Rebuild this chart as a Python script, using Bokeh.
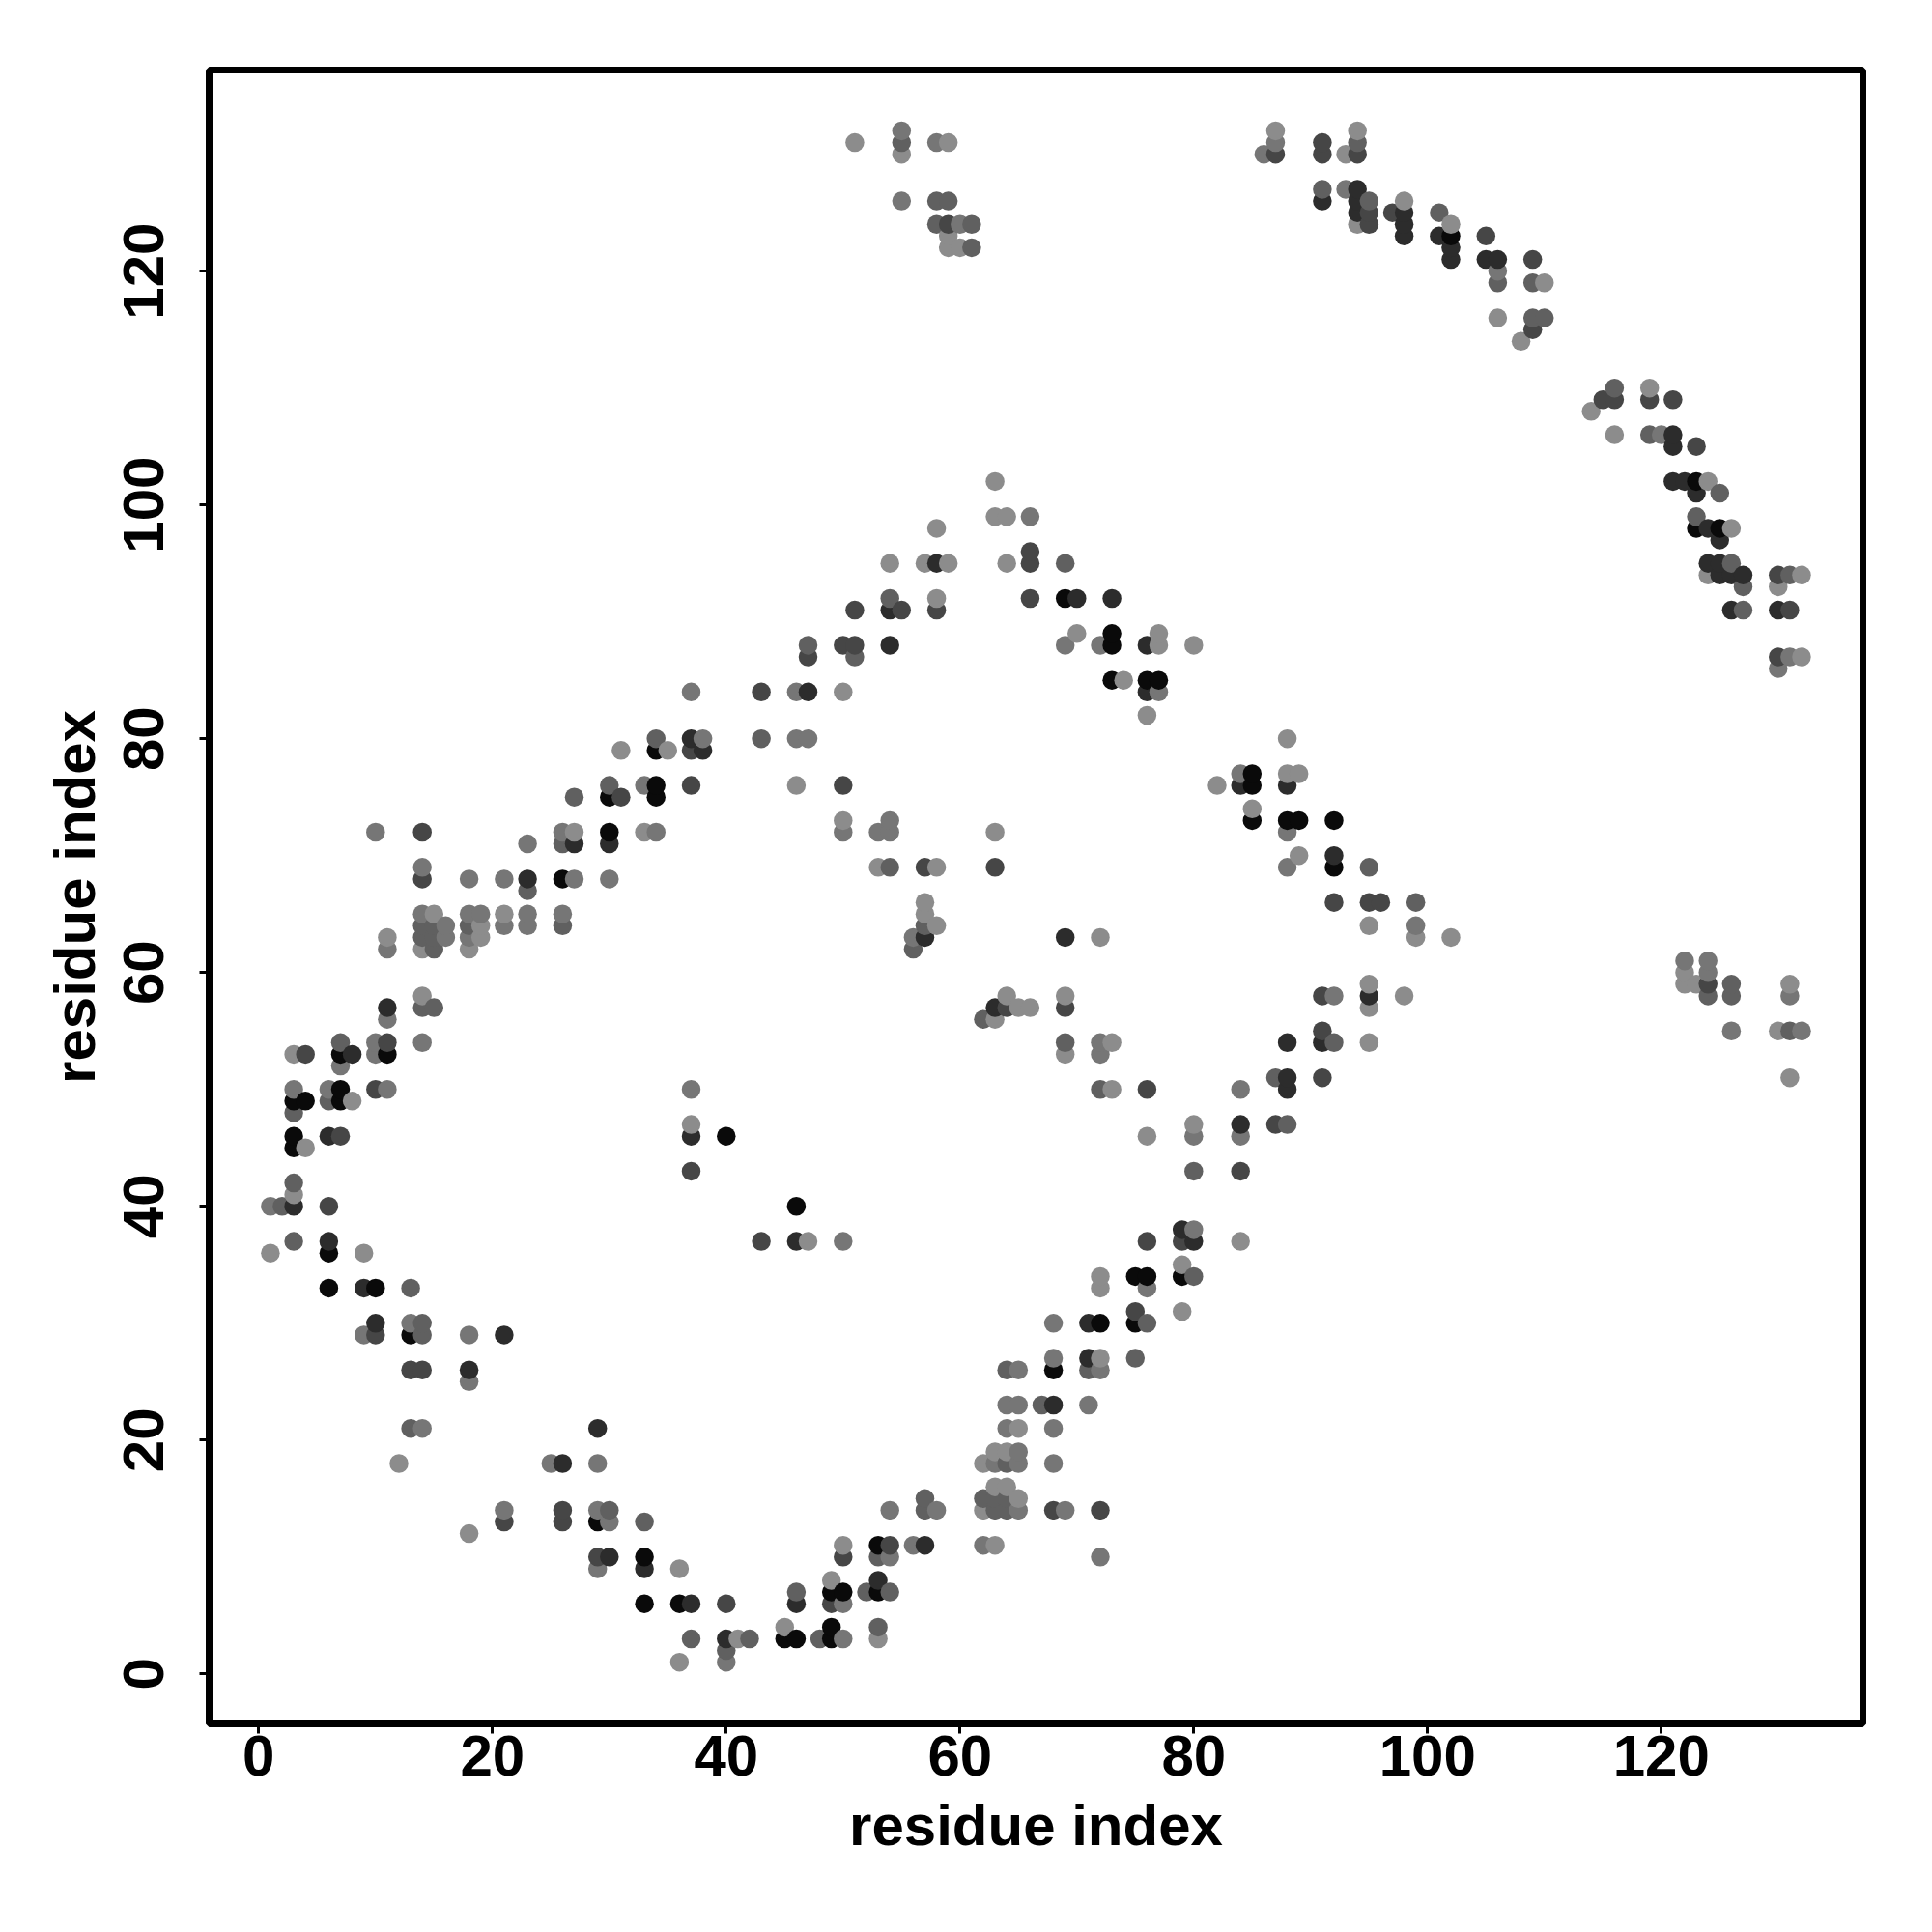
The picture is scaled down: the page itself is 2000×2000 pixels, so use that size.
from bokeh.plotting import figure
from bokeh.models import Range1d, FixedTicker, ColumnDataSource
from bokeh.embed import file_html
from bokeh.resources import INLINE

tick_values = [0, 20, 40, 60, 80, 100, 120]
x_label = "residue index"
y_label = "residue index"

# contacts (residue i, residue j), grouped by the grey level they were drawn in
shade_black = [(7,50),(3,49),(4,49),(7,49),(3,46),(40,46),(3,45),(46,40),(6,36),(6,33),(10,33),(13,29),(29,13),(33,10),(33,6),(36,6),(45,3),(46,3),(75,34),(76,34),(79,34),(72,30),(75,30),(68,26),(53,11),(49,7),(50,7),(53,7),(49,4),(49,3),(34,79),(34,76),(30,75),(34,75),(30,72),(26,68),(7,53),(11,53),(73,89),(73,88),(73,85),(76,85),(77,85),(69,92),(85,77),(85,76),(85,73),(88,73),(89,73),(92,73),(92,69),(102,123),(123,102),(123,98),(125,98)]
shade_dark = [(88,51),(88,50),(84,47),(79,38),(80,37),(71,30),(71,27),(68,23),(57,11),(53,8),(21,29),(18,26),(29,21),(26,18),(30,10),(33,9),(37,6),(46,6),(40,3),(3,40),(6,46),(6,37),(46,37),(37,46),(9,33),(10,30),(37,80),(38,79),(27,71),(30,71),(23,68),(11,57),(8,53),(58,95),(70,92),(73,92),(54,91),(54,88),(76,88),(47,84),(76,84),(84,76),(88,76),(92,70),(69,63),(57,63),(63,57),(95,58),(88,54),(91,54),(94,127),(91,126),(94,126),(94,125),(98,125),(98,124),(98,123),(101,123),(102,122),(102,121),(105,121),(106,121),(121,106),(121,105),(121,102),(122,102),(123,101),(124,98),(125,97),(124,95),(125,95),(125,94),(126,94),(127,94),(126,91),(130,91)]
shade_mid_dark = [(10,50),(7,46),(37,43),(6,40),(43,37),(10,29),(13,26),(14,26),(26,14),(21,13),(26,13),(29,10),(40,6),(76,50),(87,47),(84,43),(76,37),(79,37),(75,31),(68,14),(72,14),(54,11),(50,10),(49,6),(91,51),(43,84),(37,76),(50,76),(31,75),(37,79),(14,72),(14,68),(4,53),(11,54),(66,96),(66,95),(66,92),(51,91),(55,91),(58,91),(50,88),(51,88),(47,87),(57,69),(63,69),(92,66),(95,66),(96,66),(64,57),(69,57),(91,58),(91,55),(124,59),(91,131),(87,130),(91,130),(94,130),(95,125),(97,125),(95,124),(105,123),(109,121),(109,115),(115,109),(116,109),(119,109),(121,109),(123,105),(130,94),(131,91),(130,87),(59,124)]
shade_mid = [(6,49),(3,48),(3,42),(2,40),(3,37),(13,33),(14,30),(14,29),(13,21),(30,14),(33,13),(46,7),(37,3),(42,3),(40,2),(72,50),(87,51),(88,47),(80,43),(80,34),(76,30),(75,27),(64,26),(71,26),(67,23),(64,18),(62,15),(63,15),(64,15),(57,15),(57,14),(63,14),(64,14),(53,10),(52,7),(54,7),(53,4),(48,3),(34,80),(43,80),(30,76),(27,75),(26,71),(23,67),(14,64),(15,64),(18,64),(26,64),(14,63),(15,63),(15,62),(14,57),(15,57),(7,54),(54,92),(69,95),(47,88),(51,87),(54,69),(99,66),(57,64),(56,62),(62,56),(69,54),(92,54),(95,69),(55,131),(58,126),(59,126),(58,124),(61,124),(61,122),(124,58),(126,59),(126,58),(131,55),(91,127),(94,131),(95,126),(101,125),(106,119),(109,119),(109,116),(110,116),(116,110),(119,106),(125,101),(123,99),(126,95),(127,93),(127,91),(131,94)]
shade_light = [(3,50),(6,50),(11,50),(37,50),(1,40),(50,37),(13,30),(9,29),(18,29),(18,25),(14,21),(25,18),(29,18),(21,14),(29,14),(30,13),(29,9),(40,1),(84,50),(80,46),(84,46),(80,38),(76,33),(68,30),(68,27),(72,26),(65,26),(64,23),(65,23),(71,23),(64,21),(68,21),(63,18),(65,18),(68,18),(65,19),(58,14),(65,14),(69,14),(54,14),(56,11),(62,11),(54,10),(72,10),(50,6),(50,3),(37,84),(46,84),(46,80),(47,80),(38,80),(33,76),(23,71),(26,72),(10,72),(14,69),(18,68),(21,68),(27,68),(30,68),(14,65),(18,65),(19,65),(23,65),(26,65),(16,64),(21,64),(23,64),(16,63),(18,63),(11,62),(14,54),(10,54),(10,53),(11,56),(7,52),(66,99),(77,84),(69,88),(72,88),(54,73),(50,72),(53,72),(54,72),(84,77),(88,72),(88,69),(56,63),(99,64),(92,58),(72,54),(72,53),(126,55),(132,55),(131,58),(122,61),(124,61),(124,60),(55,132),(58,131),(55,126),(60,124),(86,130),(87,131),(93,127),(106,120),(120,106),(131,87),(130,86),(34,72)]
shade_pale = [(8,49),(37,47),(4,45),(3,41),(47,37),(1,36),(9,36),(12,18),(18,12),(36,9),(45,4),(41,3),(36,1),(53,3),(73,50),(80,47),(76,46),(84,37),(79,35),(72,34),(72,33),(79,31),(72,27),(65,21),(63,19),(64,19),(62,18),(63,16),(64,16),(65,15),(62,14),(50,11),(63,11),(49,8),(31,79),(35,79),(46,76),(27,72),(33,72),(15,65),(21,65),(19,64),(19,63),(11,63),(18,62),(14,62),(14,58),(3,53),(63,102),(63,99),(64,99),(58,98),(54,95),(57,95),(59,95),(64,95),(58,92),(70,89),(77,89),(77,88),(80,88),(74,85),(76,82),(88,80),(88,77),(89,77),(82,76),(85,74),(50,73),(63,72),(53,69),(58,69),(89,70),(57,66),(57,65),(58,64),(95,64),(72,63),(99,63),(102,63),(64,58),(69,58),(98,58),(65,57),(66,57),(95,57),(95,59),(63,56),(73,54),(95,54),(69,53),(122,60),(122,59),(123,59),(131,59),(130,55),(131,51),(51,131),(59,131),(55,130),(59,123),(59,122),(60,122),(87,132),(94,132),(93,130),(98,126),(94,124),(102,124),(110,119),(106,116),(108,114),(119,110),(114,108),(116,106),(124,102),(126,98),(124,94),(132,94),(130,93),(132,87),(50,84)]

groups = [(shade_black, "#0a0a0a"), (shade_dark, "#2c2c2c"), (shade_mid_dark, "#464646"),
          (shade_mid, "#606060"), (shade_light, "#767676"), (shade_pale, "#8c8c8c")]

rows = sorted((x, y, c) for pts, c in groups for x, y in pts)
source = ColumnDataSource(dict(x=[r[0] for r in rows], y=[r[1] for r in rows], c=[r[2] for r in rows]))

FONT = "Liberation Sans"
p = figure(width=1984, height=1984, output_backend="svg", toolbar_location=None,
           x_range=Range1d(-4.24, 137.25), y_range=Range1d(-4.27, 137.2),
           min_border_left=216, min_border_right=56, min_border_top=72, min_border_bottom=200)
p.scatter("x", "y", source=source, size=19.5, fill_color="c", line_color=None, marker="circle")

p.grid.visible = False
p.outline_line_color = "black"
p.outline_line_width = 7
p.background_fill_color = "white"
p.border_fill_color = "white"

for ax, label in ((p.xaxis[0], x_label), (p.yaxis[0], y_label)):
    ax.ticker = FixedTicker(ticks=tick_values)
    ax.axis_label = label
    ax.axis_label_text_font = FONT
    ax.axis_label_text_font_style = "bold"
    ax.axis_label_text_font_size = "60px"
    ax.axis_label_text_color = "black"
    ax.major_label_text_font = FONT
    ax.major_label_text_font_style = "bold"
    ax.major_label_text_font_size = "60px"
    ax.major_label_text_color = "black"
    ax.axis_line_color = None
    ax.major_tick_line_color = "black"
    ax.major_tick_line_width = 3
    ax.major_tick_in = 0
    ax.major_tick_out = 10
    ax.minor_tick_line_color = None

p.xaxis[0].major_label_standoff = 2
p.yaxis[0].major_label_standoff = 37
p.yaxis[0].major_label_orientation = "vertical"
p.xaxis[0].axis_label_standoff = 15
p.yaxis[0].axis_label_standoff = 15

open("out.html", "w").write(file_html(p, INLINE))
